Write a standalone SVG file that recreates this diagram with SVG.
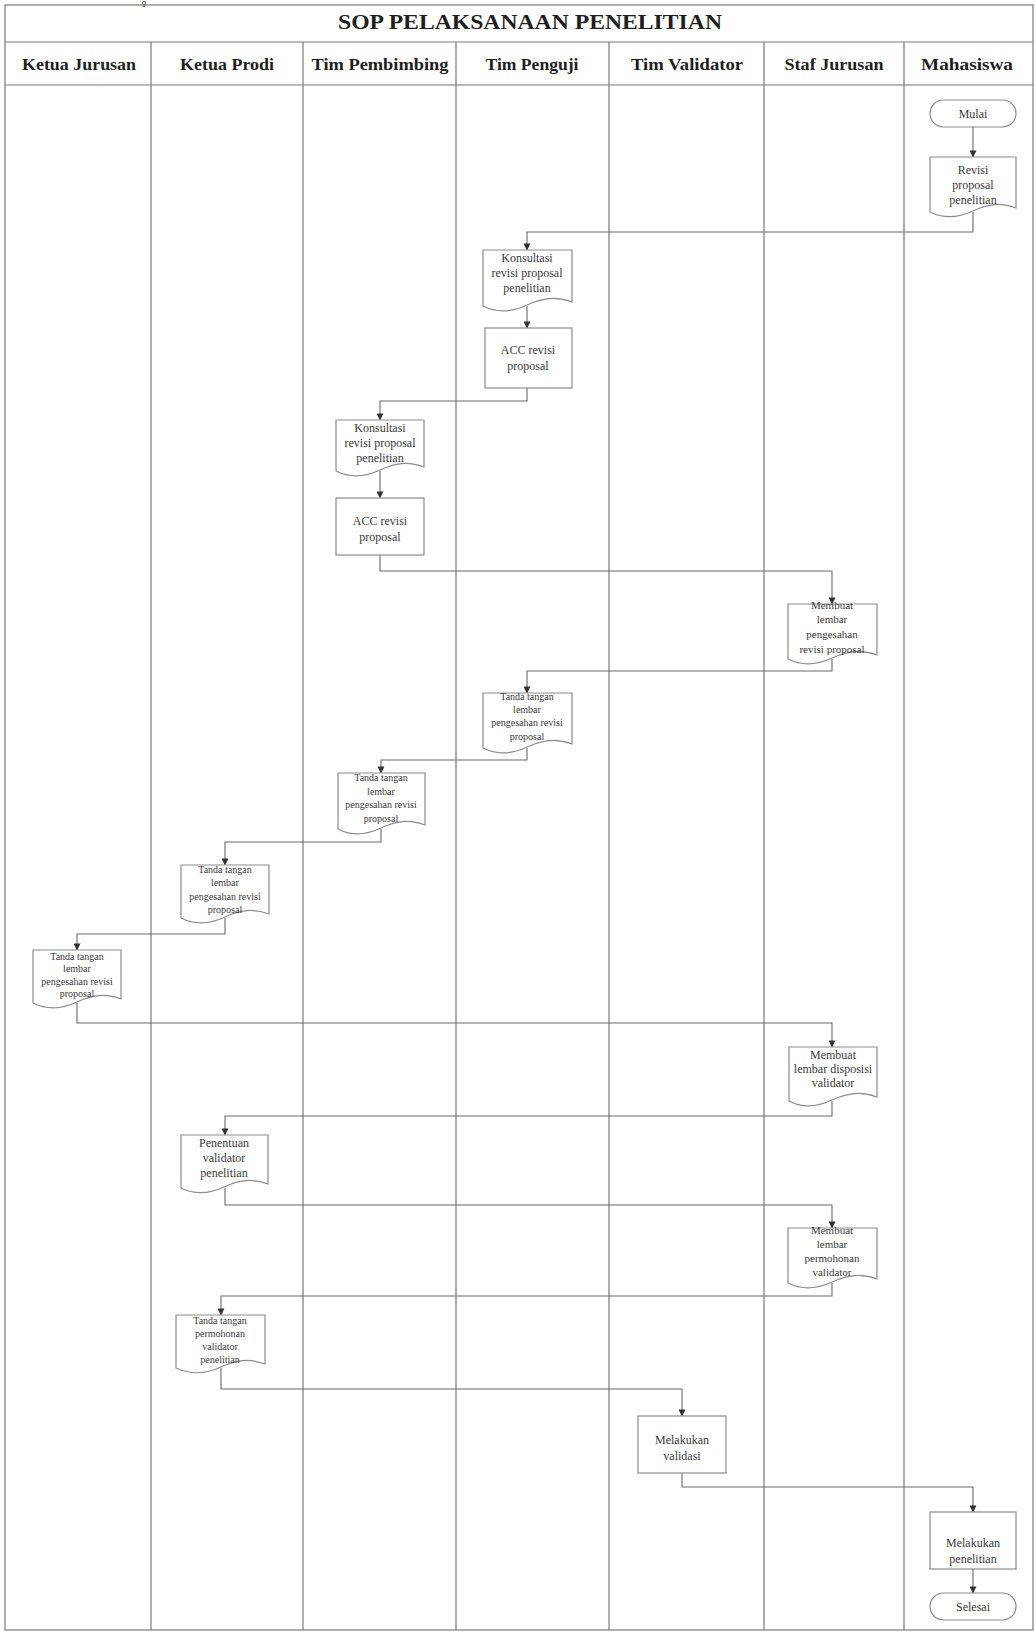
<svg xmlns="http://www.w3.org/2000/svg" width="1035" height="1632" viewBox="0 0 1035 1632">
<style>
.frame{fill:none;stroke:#7a7a7a;stroke-width:1.2}
.lane{stroke:#7a7a7a;stroke-width:1.2}
.node{fill:#ffffff;stroke:#8c8c8c;stroke-width:1.2}
.conn{fill:none;stroke:#6a6a6a;stroke-width:1.1}
.title{font-family:"Liberation Serif",serif;font-weight:bold;font-size:21px;fill:#1e1e1e;text-anchor:middle}
.hdr{font-family:"Liberation Serif",serif;font-weight:bold;font-size:16px;fill:#1e1e1e;text-anchor:middle}
.t{font-family:"Liberation Serif",serif;font-size:12px;fill:#3a3a3a;text-anchor:middle}
.s{font-family:"Liberation Serif",serif;font-size:10px;fill:#3a3a3a;text-anchor:middle}
.m{font-family:"Liberation Serif",serif;font-size:11px;fill:#3a3a3a;text-anchor:middle}
</style>
<defs>
<marker id="arr" viewBox="0 0 8 8" refX="7.5" refY="4" markerWidth="7" markerHeight="7" markerUnits="userSpaceOnUse" orient="auto">
<path d="M0,0 L8,4 L0,8 Z" fill="#333"/>
</marker>
</defs>
<rect width="1035" height="1632" fill="#ffffff"/>
<text x="142" y="5" font-family="Liberation Sans,sans-serif" font-size="7" fill="#111">g</text>
<g id="frame">
<rect class="frame" x="5" y="5" width="1028" height="1625"/>
<line class="lane" x1="5" y1="42" x2="1033" y2="42"/>
<line class="lane" x1="5" y1="85" x2="1033" y2="85" stroke-width="1.8"/>
<line class="lane" x1="151" y1="42" x2="151" y2="1630"/>
<line class="lane" x1="303" y1="42" x2="303" y2="1630"/>
<line class="lane" x1="456" y1="42" x2="456" y2="1630"/>
<line class="lane" x1="609" y1="42" x2="609" y2="1630"/>
<line class="lane" x1="764" y1="42" x2="764" y2="1630"/>
<line class="lane" x1="904" y1="42" x2="904" y2="1630"/>
<text class="title" x="530" y="29" textLength="384" lengthAdjust="spacingAndGlyphs">SOP PELAKSANAAN PENELITIAN</text>
<text class="hdr" x="79" y="70" textLength="114" lengthAdjust="spacingAndGlyphs">Ketua Jurusan</text>
<text class="hdr" x="227" y="70" textLength="94" lengthAdjust="spacingAndGlyphs">Ketua Prodi</text>
<text class="hdr" x="380" y="70" textLength="137" lengthAdjust="spacingAndGlyphs">Tim Pembimbing</text>
<text class="hdr" x="532" y="70" textLength="93" lengthAdjust="spacingAndGlyphs">Tim Penguji</text>
<text class="hdr" x="687" y="70" textLength="112" lengthAdjust="spacingAndGlyphs">Tim Validator</text>
<text class="hdr" x="834" y="70" textLength="99" lengthAdjust="spacingAndGlyphs">Staf Jurusan</text>
<text class="hdr" x="967" y="70" textLength="92" lengthAdjust="spacingAndGlyphs">Mahasiswa</text>
</g>
<g id="connectors">
<path class="conn" d="M973,127 V157" marker-end="url(#arr)"/>
<path class="conn" d="M973,212 V232 H527 V250" marker-end="url(#arr)"/>
<path class="conn" d="M527,306 V328" marker-end="url(#arr)"/>
<path class="conn" d="M527,388 V401 H380 V420" marker-end="url(#arr)"/>
<path class="conn" d="M380,471 V498" marker-end="url(#arr)"/>
<path class="conn" d="M380,555 V571 H832 V604" marker-end="url(#arr)"/>
<path class="conn" d="M832,659 V671 H527 V693" marker-end="url(#arr)"/>
<path class="conn" d="M527,748 V760 H381 V773" marker-end="url(#arr)"/>
<path class="conn" d="M381,829 V842 H225 V865" marker-end="url(#arr)"/>
<path class="conn" d="M225,918 V934 H77 V950" marker-end="url(#arr)"/>
<path class="conn" d="M77,1003 V1023 H832 V1047" marker-end="url(#arr)"/>
<path class="conn" d="M832,1101 V1116 H225 V1135" marker-end="url(#arr)"/>
<path class="conn" d="M225,1188 V1205 H832 V1228" marker-end="url(#arr)"/>
<path class="conn" d="M832,1283 V1296 H221 V1315" marker-end="url(#arr)"/>
<path class="conn" d="M221,1368 V1389 H682 V1416" marker-end="url(#arr)"/>
<path class="conn" d="M682,1473 V1487 H973 V1512" marker-end="url(#arr)"/>
<path class="conn" d="M973,1569 V1593" marker-end="url(#arr)"/>
</g>
<g id="n-mulai">
<rect class="node" x="930" y="100" width="86" height="27" rx="13.5"/>
<text class="t" x="973" y="118">Mulai</text>
</g>
<g id="n-revisi">
<path class="node" d="M930,157 H1016 V208 C1000,202 988,204 973,211 C958,218 944,219 930,212 Z"/>
<text class="t" x="973" y="174">Revisi</text>
<text class="t" x="973" y="189">proposal</text>
<text class="t" x="973" y="204">penelitian</text>
</g>
<g id="n-konsultasi-penguji">
<path class="node" d="M483,250 H572 V302 C556,296 543,298 527,305 C512,312 497,313 483,306 Z"/>
<text class="t" x="527" y="262">Konsultasi</text>
<text class="t" x="527" y="277">revisi proposal</text>
<text class="t" x="527" y="292">penelitian</text>
</g>
<g id="n-acc-penguji">
<rect class="node" x="485" y="328" width="87" height="60"/>
<text class="t" x="528" y="354">ACC revisi</text>
<text class="t" x="528" y="370">proposal</text>
</g>
<g id="n-konsultasi-pembimbing">
<path class="node" d="M336,420 H424 V467 C408,461 395,463 380,470 C365,477 350,478 336,471 Z"/>
<text class="t" x="380" y="432">Konsultasi</text>
<text class="t" x="380" y="447">revisi proposal</text>
<text class="t" x="380" y="462">penelitian</text>
</g>
<g id="n-acc-pembimbing">
<rect class="node" x="336" y="498" width="88" height="57"/>
<text class="t" x="380" y="525">ACC revisi</text>
<text class="t" x="380" y="541">proposal</text>
</g>
<g id="n-membuat-pengesahan">
<path class="node" d="M788,604 H877 V655 C861,649 848,651 832,658 C817,665 802,666 788,659 Z"/>
<text class="m" x="832" y="609">Membuat</text>
<text class="m" x="832" y="623">lembar</text>
<text class="m" x="832" y="638">pengesahan</text>
<text class="m" x="832" y="653">revisi proposal</text>
</g>
<g id="n-ttd-penguji">
<path class="node" d="M483,693 H572 V744 C556,738 543,740 527,747 C512,754 497,755 483,748 Z"/>
<text class="s" x="527" y="700">Tanda tangan</text>
<text class="s" x="527" y="713">lembar</text>
<text class="s" x="527" y="726">pengesahan revisi</text>
<text class="s" x="527" y="740">proposal</text>
</g>
<g id="n-ttd-pembimbing">
<path class="node" d="M338,773 H425 V825 C409,819 396,821 381,828 C366,835 351,836 338,829 Z"/>
<text class="s" x="381" y="781">Tanda tangan</text>
<text class="s" x="381" y="795">lembar</text>
<text class="s" x="381" y="808">pengesahan revisi</text>
<text class="s" x="381" y="822">proposal</text>
</g>
<g id="n-ttd-prodi">
<path class="node" d="M181,865 H269 V914 C253,908 240,910 225,917 C210,924 195,925 181,918 Z"/>
<text class="s" x="225" y="873">Tanda tangan</text>
<text class="s" x="225" y="886">lembar</text>
<text class="s" x="225" y="900">pengesahan revisi</text>
<text class="s" x="225" y="913">proposal</text>
</g>
<g id="n-ttd-kajur">
<path class="node" d="M33,950 H121 V999 C105,993 92,995 77,1002 C62,1009 47,1010 33,1003 Z"/>
<text class="s" x="77" y="960">Tanda tangan</text>
<text class="s" x="77" y="972">lembar</text>
<text class="s" x="77" y="985">pengesahan revisi</text>
<text class="s" x="77" y="997">proposal</text>
</g>
<g id="n-membuat-disposisi">
<path class="node" d="M789,1047 H877 V1097 C861,1091 848,1093 832,1100 C817,1107 802,1108 789,1101 Z"/>
<text class="t" x="833" y="1059">Membuat</text>
<text class="t" x="833" y="1073">lembar disposisi</text>
<text class="t" x="833" y="1087">validator</text>
</g>
<g id="n-penentuan">
<path class="node" d="M181,1135 H268 V1184 C252,1178 239,1180 224,1187 C209,1194 195,1195 181,1188 Z"/>
<text class="t" x="224" y="1147">Penentuan</text>
<text class="t" x="224" y="1162">validator</text>
<text class="t" x="224" y="1177">penelitian</text>
</g>
<g id="n-membuat-permohonan">
<path class="node" d="M788,1228 H877 V1279 C861,1273 848,1275 832,1282 C817,1289 802,1290 788,1283 Z"/>
<text class="m" x="832" y="1234">Membuat</text>
<text class="m" x="832" y="1248">lembar</text>
<text class="m" x="832" y="1262">permohonan</text>
<text class="m" x="832" y="1276">validator</text>
</g>
<g id="n-ttd-permohonan">
<path class="node" d="M176,1315 H265 V1364 C249,1358 236,1360 221,1367 C206,1374 191,1375 176,1368 Z"/>
<text class="s" x="220" y="1324">Tanda tangan</text>
<text class="s" x="220" y="1337">permohonan</text>
<text class="s" x="220" y="1350">validator</text>
<text class="s" x="220" y="1363">penelitian</text>
</g>
<g id="n-validasi">
<rect class="node" x="638" y="1416" width="88" height="57"/>
<text class="t" x="682" y="1444">Melakukan</text>
<text class="t" x="682" y="1460">validasi</text>
</g>
<g id="n-penelitian">
<rect class="node" x="930" y="1512" width="86" height="57"/>
<text class="t" x="973" y="1547">Melakukan</text>
<text class="t" x="973" y="1563">penelitian</text>
</g>
<g id="n-selesai">
<rect class="node" x="930" y="1593" width="86" height="27" rx="13.5"/>
<text class="t" x="973" y="1611">Selesai</text>
</g>
</svg>
